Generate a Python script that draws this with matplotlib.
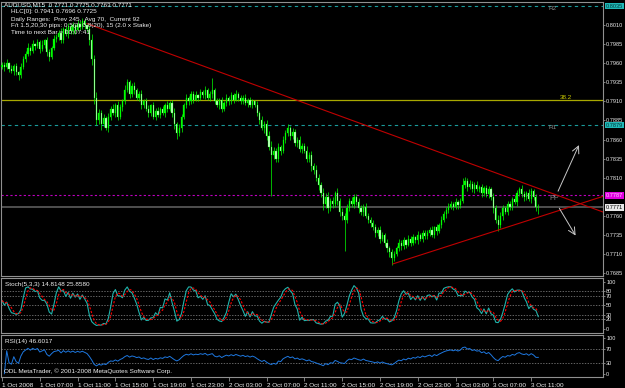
import numpy as np
import pandas as pd
import matplotlib
matplotlib.use("Agg")
import matplotlib.pyplot as plt
import matplotlib.transforms as mtrans

FONT = ["Liberation Sans Narrow", "Liberation Sans", "DejaVu Sans"]
plt.rcParams["font.family"] = FONT

# AUDUSD M15 closes, in points (0.0001)
closes = [
    7958, 7955, 7960, 7952, 7950, 7956, 7948, 7944, 7955, 7966, 7972, 7980,
    7976, 7985, 7982, 7988, 7979, 7984, 7990, 7975, 7968, 7980, 7992, 7995,
    8000, 7990, 8005, 7998, 8008, 8002, 8010, 8004, 8012, 8008, 8015, 8010,
    8005, 7990, 7965, 7915, 7885, 7895, 7880, 7888, 7875, 7890, 7900, 7895,
    7905, 7890, 7902, 7910, 7925, 7935, 7920, 7930, 7925, 7915, 7920, 7905,
    7910, 7900, 7895, 7905, 7890, 7898, 7892, 7900, 7895, 7905, 7900, 7908,
    7895, 7880, 7868, 7875, 7890, 7905, 7915, 7910, 7920, 7912, 7918, 7915,
    7922, 7918, 7925, 7915, 7920, 7925, 7910, 7905, 7912, 7900, 7908, 7915,
    7910, 7918, 7912, 7920, 7915, 7910, 7915, 7908, 7912, 7905, 7910, 7905,
    7895, 7885, 7875, 7880, 7865, 7850, 7840, 7845, 7835, 7850, 7845, 7860,
    7868, 7875, 7865, 7870, 7855, 7860, 7848, 7852, 7845, 7835, 7840, 7825,
    7820, 7810, 7800, 7790, 7775, 7785, 7770, 7780, 7775, 7790, 7780, 7765,
    7760, 7755, 7770, 7780, 7775, 7785, 7778, 7770, 7765, 7772, 7760, 7755,
    7750, 7745, 7738, 7742, 7730, 7735, 7725, 7718, 7712, 7705, 7710, 7718,
    7725, 7720, 7728, 7722, 7730, 7725, 7732, 7728, 7735, 7730, 7738, 7733,
    7738, 7742, 7735, 7745, 7740, 7748, 7755, 7762, 7768, 7772, 7775, 7772,
    7778, 7774, 7780, 7800, 7805, 7798, 7802, 7795, 7800, 7795, 7798, 7790,
    7796, 7788, 7795, 7785, 7770, 7755, 7748, 7760, 7770, 7765, 7775, 7772,
    7782, 7778, 7790, 7795, 7788, 7785, 7790, 7782, 7792, 7785, 7771, 7771,
]
first_open = 7955

upper_wick = [
    4, 3, 5, 2, 6, 3, 4, 2, 5, 3, 4, 6,
    3, 5, 2, 4, 3, 6, 2, 5, 4, 3, 5, 4,
    3, 6, 2, 4, 5, 3, 4, 2, 5, 3, 4, 3,
    2, 5, 8, 6, 7, 5, 4, 6, 3, 5, 4, 6,
    3, 5, 4, 3, 6, 5, 3, 4, 6, 2, 4, 5,
    3, 4, 5, 2, 4, 3, 5, 2, 4, 3, 5, 3,
    4, 6, 3, 5, 4, 3, 5, 2, 4, 3, 5, 2,
    4, 3, 5, 2, 4, 16, 3, 5, 2, 4, 3, 5,
    2, 4, 3, 5, 2, 4, 3, 5, 2, 4, 3, 2,
    5, 3, 6, 4, 5, 6, 8, 5, 4, 6, 3, 5,
    4, 6, 3, 5, 4, 3, 5, 4, 3, 6, 4, 5,
    4, 6, 5, 4, 7, 5, 6, 4, 5, 3, 6, 4,
    5, 4, 6, 3, 5, 4, 3, 5, 4, 3, 5, 4,
    3, 5, 4, 3, 5, 4, 3, 4, 3, 5, 4, 3,
    5, 3, 4, 2, 5, 3, 4, 2, 5, 3, 4, 3,
    4, 3, 5, 2, 4, 3, 5, 4, 3, 5, 4, 3,
    5, 3, 4, 10, 6, 4, 5, 3, 4, 5, 3, 4,
    3, 5, 4, 3, 5, 4, 6, 5, 4, 3, 5, 4,
    3, 5, 4, 3, 5, 4, 3, 5, 4, 3, 4, 4,
]
lower_wick = [
    3, 5, 2, 4, 3, 5, 4, 6, 3, 2, 4, 3,
    5, 3, 4, 2, 5, 3, 4, 6, 5, 3, 2, 4,
    5, 3, 4, 2, 5, 3, 4, 5, 2, 4, 3, 5,
    4, 6, 7, 8, 6, 5, 8, 4, 3, 5, 4, 3,
    5, 4, 3, 5, 4, 3, 6, 4, 5, 3, 4, 5,
    4, 3, 5, 4, 3, 5, 2, 4, 3, 5, 4, 3,
    5, 6, 7, 4, 5, 3, 4, 5, 3, 4, 2, 5,
    3, 4, 5, 3, 4, 5, 4, 3, 5, 4, 3, 4,
    5, 3, 4, 2, 5, 3, 4, 3, 5, 2, 4, 3,
    4, 5, 3, 6, 5, 4, 54, 6, 5, 4, 5, 3,
    4, 3, 5, 4, 3, 5, 4, 6, 3, 5, 4, 6,
    5, 4, 6, 5, 7, 5, 6, 4, 5, 4, 6, 5,
    6, 41, 5, 4, 3, 5, 4, 6, 4, 5, 3, 4,
    5, 3, 6, 4, 5, 3, 4, 5, 6, 9, 4, 3,
    4, 5, 3, 4, 2, 5, 3, 4, 5, 3, 4, 3,
    4, 5, 3, 4, 5, 3, 4, 3, 5, 4, 3, 4,
    3, 5, 4, 3, 4, 5, 3, 4, 5, 3, 4, 5,
    4, 3, 5, 4, 6, 5, 8, 4, 5, 3, 4, 5,
    4, 3, 5, 4, 3, 5, 4, 3, 5, 4, 5, 8,
]

time_labels = ["1 Oct 2008", "1 Oct 07:00", "1 Oct 11:00", "1 Oct 15:00",
               "1 Oct 19:00", "1 Oct 23:00", "2 Oct 03:00", "2 Oct 07:00",
               "2 Oct 11:00", "2 Oct 15:00", "2 Oct 19:00", "2 Oct 23:00",
               "3 Oct 03:00", "3 Oct 07:00", "3 Oct 11:00"]
price_ticks = [0.7685, 0.7710, 0.7735, 0.7760, 0.7810, 0.7835, 0.7860,
               0.7885, 0.7910, 0.7935, 0.7960, 0.7985, 0.8010]

# pivot levels / fib / current bid
r2, r1, pp = 0.8035, 0.7879, 0.7787
fib382 = 0.7912
bid = 0.7771

# hand drawn objects (bar index, price)
trend_upper = [(36, 0.8012), (254.4, 0.7765)]
trend_lower = [(165.5, 0.7697), (254.4, 0.77855)]
arrow_up = [(234.9, 0.7789), (244.7, 0.7856)]
arrow_down = [(235.3, 0.7773), (243.4, 0.7731)]

header = [
    "AUDUSD,M15  0.7771 0.7775 0.7763 0.7771",
    "HLC[0]: 0.7941 0.7696 0.7725",
    "Daily Ranges:  Prev 245,  Avg 70,  Current 92",
    "F/t 1.5,20,30 pips: 0.5(3) 0.8(20), 15 (2.0 x Stake)",
    "Time to next Bar = 00:07:41",
]

# ---- build OHLC ----
c = np.array(closes) / 1e4
o = np.concatenate([[first_open / 1e4], c[:-1]])
h = np.maximum(o, c) + np.array(upper_wick) / 1e4
l = np.minimum(o, c) - np.array(lower_wick) / 1e4
x = np.arange(len(c))

# stochastic 5,3,3
cs, hs, ls = pd.Series(c), pd.Series(h), pd.Series(l)
ll = ls.rolling(5, min_periods=1).min()
hh = hs.rolling(5, min_periods=1).max()
stoch_k = (cs - ll).rolling(3, min_periods=1).sum() / (hh - ll).rolling(3, min_periods=1).sum() * 100
stoch_d = stoch_k.rolling(3, min_periods=1).mean()

# RSI 14
delta = cs.diff().fillna(0)
gain = delta.clip(lower=0).ewm(alpha=1 / 14, adjust=False).mean()
loss = (-delta.clip(upper=0)).ewm(alpha=1 / 14, adjust=False).mean()
rsi = 100 - 100 / (1 + gain / loss.replace(0, np.nan))

# ---- figure ----
W, H = 625, 388
fig = plt.figure(figsize=(W / 100, H / 100), dpi=100, facecolor="black")


def rect(top, bottom):
    return [1 / W, 1 - bottom / H, 602 / W, (bottom - top) / H]


ax = fig.add_axes(rect(2, 276))
ax_st = fig.add_axes(rect(278, 333), sharex=ax)
ax_rsi = fig.add_axes(rect(335, 377), sharex=ax)

FS = 4.6
YFS = 4.1
for a in (ax, ax_st, ax_rsi):
    a.set_facecolor("black")
    for s in a.spines.values():
        s.set_color("#909090")
        s.set_linewidth(0.8)
    a.yaxis.tick_right()
    a.tick_params(axis="y", colors="#909090", labelcolor="#e8e8e8",
                  labelsize=YFS, length=1.5, width=0.6, pad=0.8)
    a.tick_params(axis="x", bottom=False, labelbottom=False)

ax.set_xlim(-0.42, 254.4)
ax.set_ylim(0.76811, 0.80403)

# candles
up = c >= o
ax.vlines(x, l, h, color="#00ff00", lw=0.5, zorder=3)
ax.bar(x[up], (c - o)[up], bottom=o[up], width=0.5, color="#00ff00",
       edgecolor="#00ff00", lw=0.2, zorder=4)
ax.bar(x[~up], (o - c)[~up], bottom=c[~up], width=0.5, color="#c8ffc8",
       edgecolor="#00ff00", lw=0.2, zorder=4)

# levels
ax.axhline(r2, color="#1a9a9a", lw=0.8, ls=(0, (3, 3)), zorder=2)
ax.axhline(r1, color="#1a9a9a", lw=0.8, ls=(0, (3, 3)), zorder=2)
ax.axhline(pp, color="#c000c0", lw=0.8, ls=(0, (2, 2)), zorder=2)
ax.axhline(fib382, color="#a8a800", lw=0.9, zorder=2)
ax.axhline(bid, color="#555555", lw=1.3, zorder=2)
ax.text(231.5, r2, "R2", color="#8a8a8a", fontsize=FS, va="top", ha="left")
ax.text(231.5, r1, "R1", color="#8a8a8a", fontsize=FS, va="top", ha="left")
ax.text(231.5, pp, "PP", color="#8a8a8a", fontsize=FS + 0.6, va="top", ha="left")
ax.text(241.5, fib382, "38.2", color="#c8c800", fontsize=FS, va="bottom", ha="right")

# trend lines and arrows
for line in (trend_upper, trend_lower):
    (x0, y0), (x1, y1) = line
    ax.plot([x0, x1], [y0, y1], color="#c00000", lw=0.8, zorder=5)
for (x0, y0), (x1, y1) in (arrow_up, arrow_down):
    ax.annotate("", xy=(x1, y1), xytext=(x0, y0),
                arrowprops=dict(arrowstyle="->,head_length=0.5,head_width=0.25",
                                color="#c8c8c8", lw=0.7), zorder=6)

# right axis
ax.set_yticks(price_ticks)
ax.set_yticklabels([f"{p:.4f}" for p in price_ticks])
trans = mtrans.blended_transform_factory(ax.transAxes, ax.transData)
for val, fc, tc in ((r2, "#20b8b8", "#003838"), (r1, "#20b8b8", "#003838"),
                    (pp, "#e000e0", "#ffd0ff"), (bid, "#e8e8e8", "#000000")):
    ax.text(1.004, val, f"{val:.4f}", transform=trans, fontsize=YFS, color=tc,
            va="center", ha="left", clip_on=False,
            bbox=dict(boxstyle="square,pad=0.15", fc=fc, ec="none"))

# header text
for i, line in enumerate(header):
    fig.text((4 if i == 0 else 11) / W, 1 - (5 + 7 * i) / H, line, color="#f0f0f0",
             fontsize=FS, va="center", ha="left")

# stochastic
ax_st.set_ylim(-9.1, 107.9)
ax_st.set_yticks([100, 80, 70, 50, 30, 20, 0])
for lv in (80, 70, 50, 30, 20):
    ax_st.axhline(lv, color="#8a8a8a", lw=0.5, ls=(0, (2, 2)))
ax_st.plot(x, stoch_k, color="#20b2aa", lw=0.8)
ax_st.plot(x, stoch_d, color="#ff0000", lw=0.8, ls=(0, (2, 1.5)))
ax_st.text(0.006, 0.93, "Stoch(5,3,3) 14.8148 25.8580", transform=ax_st.transAxes,
           color="#f0f0f0", fontsize=FS, va="top", ha="left")

# RSI
ax_rsi.set_ylim(-9.2, 108.4)
ax_rsi.set_yticks([100, 70, 30, 0])
for lv in (70, 30):
    ax_rsi.axhline(lv, color="#8a8a8a", lw=0.5, ls=(0, (2, 2)))
ax_rsi.plot(x, rsi, color="#1e78e0", lw=0.7)
ax_rsi.text(0.006, 0.91, "RSI(14) 46.6017", transform=ax_rsi.transAxes,
            color="#f0f0f0", fontsize=FS, va="top", ha="left")
ax_rsi.text(0.005, 0.06, "ODL MetaTrader, \u00a9 2001-2008 MetaQuotes Software Corp.",
            transform=ax_rsi.transAxes, color="#f0f0f0", fontsize=FS,
            va="bottom", ha="left")

# time axis
ax_rsi.set_xticks(np.arange(0, 16 * len(time_labels), 16))
ax_rsi.set_xticklabels(time_labels)
ax_rsi.tick_params(axis="x", bottom=True, labelbottom=True, colors="#909090",
                   labelcolor="#f0f0f0", labelsize=FS, length=3, width=0.6, pad=1)
for t in ax_rsi.get_xticklabels():
    t.set_ha("left")

fig.savefig("out.png", dpi=100, facecolor="black")
